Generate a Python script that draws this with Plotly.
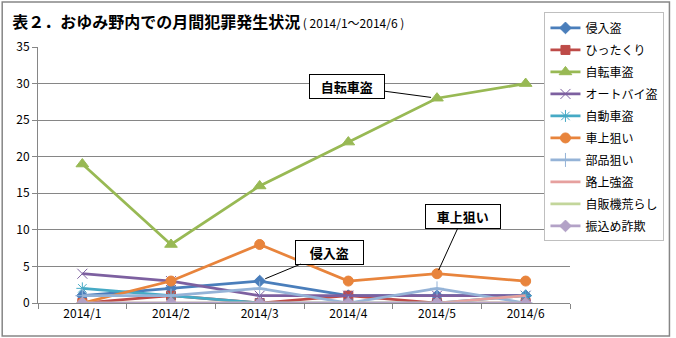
import plotly.graph_objects as go

months = ["2014/1", "2014/2", "2014/3", "2014/4", "2014/5", "2014/6"]
series_names = ["侵入盗", "ひったくり", "自転車盗", "オートバイ盗", "自動車盗",
                "車上狙い", "部品狙い", "路上強盗", "自販機荒らし", "振込め詐欺"]
shinnyu = [1, 2, 3, 1, 1, 1]
hittakuri = [0, 1, 0, 1, 0, 0]
jitensha = [19, 8, 16, 22, 28, 30]
autobai = [4, 3, 1, 1, 1, 1]
jidousha = [2, 1, 0, 0, 0, 1]
shajou = [0, 3, 8, 3, 4, 3]
buhin = [1, 1, 2, 0, 2, 0]
rojou = [0, 0, 0, 0, 0, 1]
jihanki = [0, 0, 0, 0, 0, 0]
furikome = [0, 0, 0, 0, 0, 0]
values = [shinnyu, hittakuri, jitensha, autobai, jidousha, shajou, buhin, rojou, jihanki, furikome]

colors = ["#4A7EBB", "#BE4B48", "#98B954", "#7D60A0", "#46AAC5",
          "#E8843C", "#95B3D7", "#E6A09E", "#C3D69B", "#B3A2C7"]
symbols = ["diamond", "square", "triangle-up", "x-thin-open", "asterisk-open",
           "circle", "cross-thin-open", None, None, "diamond"]
sizes = [9, 9, 11, 10, 10, 10, 10, 0, 0, 9]

fig = go.Figure()
for i, (name, vals) in enumerate(zip(series_names, values)):
    mk = dict(color=colors[i], size=sizes[i])
    if symbols[i]:
        mk["symbol"] = symbols[i]
        mk["line"] = dict(color=colors[i], width=1)
        mode = "lines+markers"
    else:
        mode = "lines"
    fig.add_trace(go.Scatter(x=months, y=vals, name=name, mode=mode,
                             line=dict(color=colors[i], width=2.75),
                             marker=mk, legendgroup=name))

font_jp = "Noto Sans CJK JP"
fig.update_layout(
    width=676, height=338,
    margin=dict(l=38, r=103, t=47, b=35),
    paper_bgcolor="white", plot_bgcolor="white",
    font=dict(family=font_jp, size=11, color="black"),
    title=dict(
        text="表２．おゆみ野内での月間犯罪発生状況<span style='font-size:12px;font-weight:normal'> ( 2014/1～2014/6 )</span>",
        font=dict(family=font_jp, size=16, color="black", weight="bold"),
        xref="container", x=0.018, xanchor="left", yref="container", y=0.935, yanchor="middle"),
    showlegend=True,
    legend=dict(x=0.952, xanchor="left", y=1.135, yanchor="top",
                bordercolor="#BFBFBF", borderwidth=1, bgcolor="white",
                font=dict(family=font_jp, size=12), tracegroupgap=3,
                itemwidth=30, maxheight=300),
    xaxis=dict(type="category", showgrid=False, showline=True, linecolor="#868686",
               ticks="outside", tickson="boundaries", ticklen=5, tickcolor="#868686",
               tickfont=dict(size=12), range=[-0.5, 5.5]),
    yaxis=dict(range=[0, 35], dtick=5, showgrid=True, gridcolor="#868686", gridwidth=1,
               showline=True, linecolor="#868686", ticks="outside", ticklen=5,
               tickcolor="#868686", tickfont=dict(size=12), zeroline=False),
    shapes=[dict(type="rect", xref="paper", yref="paper",
                 x0=-36/535, x1=1+100/535, y0=-33/256, y1=1+45/256,
                 line=dict(color="#868686", width=1.5), layer="below")],
)

ann_style = dict(showarrow=True, arrowhead=0, arrowwidth=1, arrowcolor="black",
                 bordercolor="black", borderwidth=1, bgcolor="white",
                 font=dict(family=font_jp, size=13, color="black", weight="bold"),
                 borderpad=2)
fig.add_annotation(x=months[4], y=jitensha[4], text="&nbsp;&nbsp;&nbsp;自転車盗&nbsp;&nbsp;&nbsp;",
                   ax=-90, ay=-12, standoff=6, **ann_style)
fig.add_annotation(x=months[4], y=shajou[4], text="&nbsp;&nbsp;&nbsp;車上狙い&nbsp;&nbsp;&nbsp;",
                   ax=26, ay=-57, standoff=4, **ann_style)
fig.add_annotation(x=months[2], y=shinnyu[2], text="&nbsp;&nbsp;&nbsp;&nbsp;侵入盗&nbsp;&nbsp;&nbsp;&nbsp;",
                   ax=70, ay=-29, standoff=6, **ann_style)

fig.write_html("out.html")
